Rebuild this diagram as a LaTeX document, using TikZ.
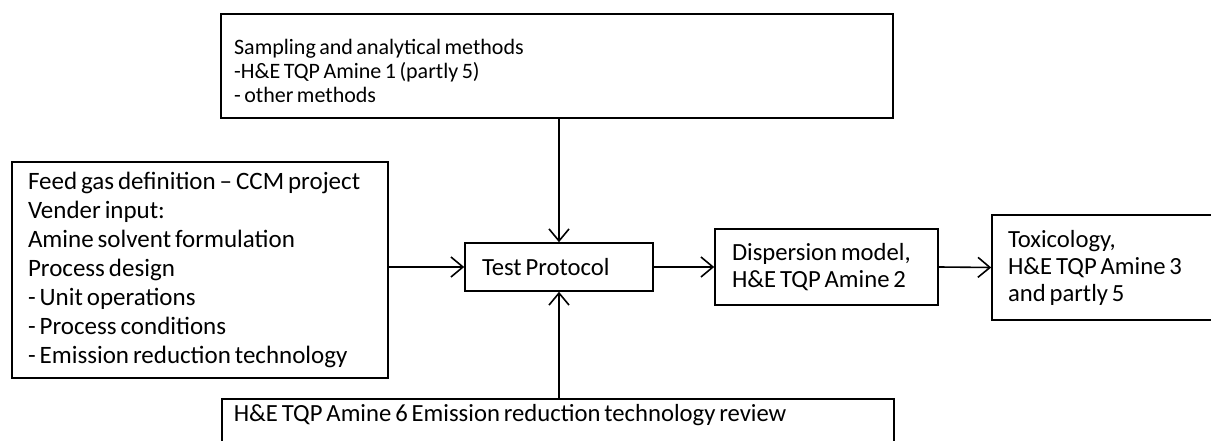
\documentclass[tikz,border=0pt]{standalone}
\usepackage{fontspec}
\setmainfont[WordSpace=0.7]{Carlito}
\usetikzlibrary{arrows.meta}
\tikzset{
  box/.style={draw, line width=1.2pt, inner ysep=0pt, anchor=center, align=left,
              execute at begin node={\spaceskip=0pt\xspaceskip=0pt\relax}},
  big/.style={font=\fontsize{18.5pt}{20.25pt}\selectfont},
  flow/.style={line width=1.2pt, -{Straight Barb[length=9pt,width=15pt,line width=1.2pt]}},
}
\begin{document}
\begin{tikzpicture}[x=0.75pt,y=-0.75pt]
\useasboundingbox (0,0) rectangle (1211,441);

% inputs
\node[box, inner xsep=12pt, text width=258pt, minimum height=162pt,
      font=\fontsize{18.75pt}{21.75pt}\selectfont] (feed) at (200,270)
  {Feed gas definition – CCM project\\ Vender input:\\ Amine solvent formulation\\
   Process design\\ - Unit operations\\ - Process conditions\\ - Emission reduction technology};

% fixed-height box, text hung from the top
\node[draw, line width=1.2pt, anchor=north west, inner xsep=10pt, inner ysep=0pt,
      font=\fontsize{16.5pt}{18pt}\selectfont] (samp) at (220,13)
  {\parbox[c][78pt][t]{484pt}{\raggedright\rule{0pt}{30.5pt}Sampling and analytical methods\\
   -H\&E TQP Amine 1 (partly 5)\\ - other methods}};

% main chain
\node[box, big, inner xsep=12.75pt, text width=115.5pt, minimum height=36pt] (test) at (559,267)
  {Test Protocol};
\node[box, big, inner xsep=12.75pt, text width=141.75pt, minimum height=57pt] (disp) at (826.5,267)
  {Dispersion model,\\ H\&E TQP Amine 2};
\node[box, big, inner xsep=12pt, text width=154.5pt, minimum height=78.75pt] (tox) at (1111,267.5)
  {Toxicology,\\ H\&E TQP Amine 3\\ and partly 5};

% review box below
\node[box, big, anchor=north west, inner xsep=9pt, text width=486pt,
      text height=17.25pt, text depth=40pt] (rev) at (221,398)
  {H\&E TQP Amine 6 Emission reduction technology review};

% connectors
\draw[flow] (feed.east |- test.west) -- (test.west);
\draw[flow] (test.east) -- (disp.west);
\draw[flow] (disp.east) -- (tox.west);
\draw[flow] (test.north |- samp.south) -- (test.north);
\draw[flow] (test.south |- rev.north) -- (test.south);
\end{tikzpicture}
\end{document}
